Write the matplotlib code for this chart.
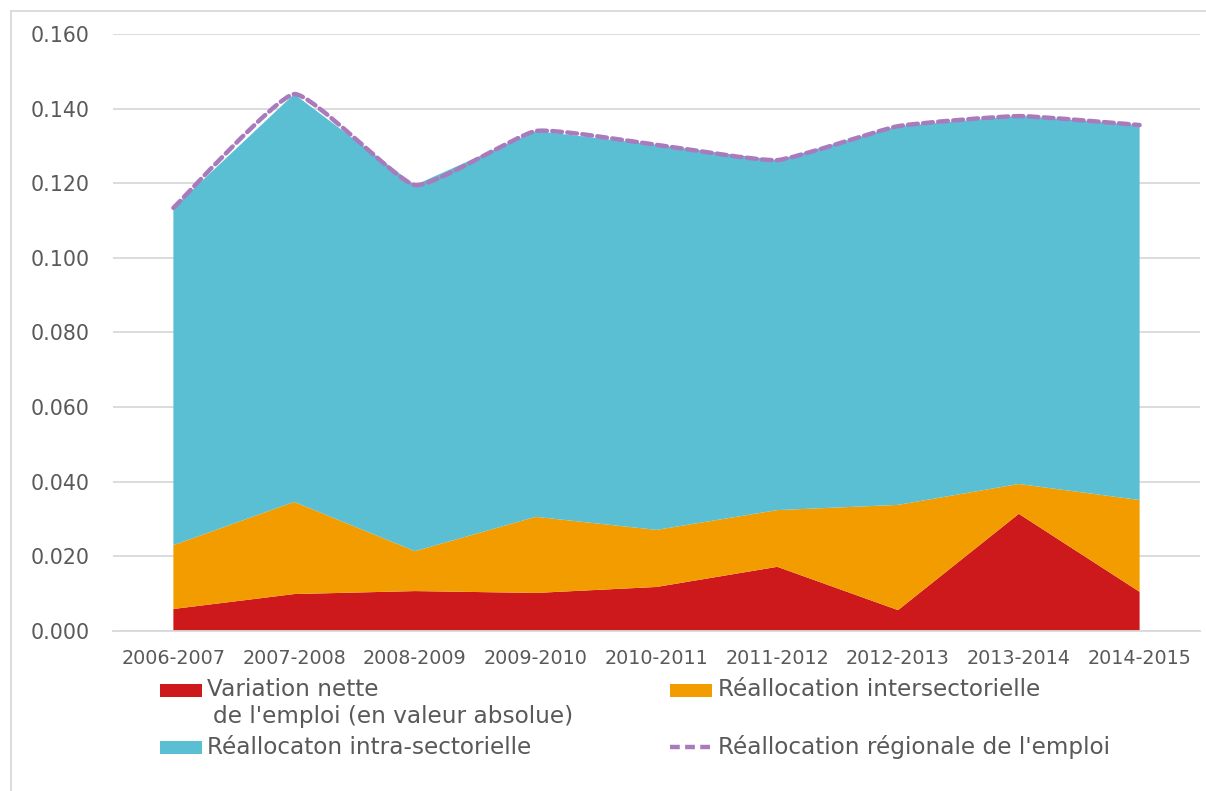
import matplotlib
matplotlib.use("Agg")
import matplotlib.pyplot as plt
import numpy as np
from matplotlib.patches import Rectangle, PathPatch
from matplotlib.lines import Line2D
from matplotlib.path import Path

periods = ["2006-2007", "2007-2008", "2008-2009", "2009-2010", "2010-2011",
           "2011-2012", "2012-2013", "2013-2014", "2014-2015"]
net_variation = [0.0059, 0.0099, 0.0107, 0.0102, 0.0118, 0.0172, 0.0056, 0.0314, 0.0105]
inter_sector = [0.0171, 0.0247, 0.0107, 0.0204, 0.0153, 0.0152, 0.0282, 0.0080, 0.0246]
intra_sector = [0.0904, 0.1093, 0.0981, 0.1034, 0.1032, 0.0938, 0.1015, 0.0986, 0.1005]
regional_total = [0.1134, 0.1439, 0.1195, 0.1340, 0.1303, 0.1262, 0.1353, 0.1380, 0.1356]
y_ticks = [0.0, 0.02, 0.04, 0.06, 0.08, 0.10, 0.12, 0.14, 0.16]

labels = ["Variation nette", "Réallocation intersectorielle",
          "Réallocaton intra-sectorielle", "Réallocation régionale de l'emploi"]

RED = "#CD181C"
ORANGE = "#F39C00"
TEAL = "#5ABFD3"
PURPLE = "#A97BBD"
GRID = "#D9D9D9"
TXT = "#595959"
FONT = "DejaVu Sans"

W, H = 1206, 791
fig = plt.figure(figsize=(W / 100, H / 100), dpi=100)
ax = fig.add_axes([113 / W, 1 - 631 / H, (1200 - 113) / W, (631 - 34) / H])

x = np.arange(len(periods))
ax.stackplot(x, net_variation, inter_sector, intra_sector,
             colors=[RED, ORANGE, TEAL], linewidth=0, zorder=2)

# lightly smoothed dashed line through the totals (cubic Bezier path)
pts = np.column_stack([x, regional_total]).astype(float)
k = 1.0 / 14.0
verts = [tuple(pts[0])]
codes = [Path.MOVETO]
for i in range(len(pts) - 1):
    p0 = pts[i - 1] if i > 0 else pts[i]
    p1 = pts[i]
    p2 = pts[i + 1]
    p3 = pts[i + 2] if i + 2 < len(pts) else pts[i + 1]
    c1 = p1 + (p2 - p0) * k
    c2 = p2 - (p3 - p1) * k
    verts += [tuple(c1), tuple(c2), tuple(p2)]
    codes += [Path.CURVE4] * 3
ax.add_patch(PathPatch(Path(verts, codes), facecolor="none", edgecolor=PURPLE, lw=3.2,
                       linestyle=(0, (2.2, 1.2)), capstyle="round", zorder=3))

ax.set_xlim(-0.5, len(periods) - 0.5)
ax.set_ylim(0, 0.16)
ax.set_yticks(y_ticks)
ax.set_yticklabels([f"{v:.3f}" for v in y_ticks], fontsize=14.8, color=TXT, family=FONT)
ax.set_xticks(x)
ax.set_xticklabels(periods, fontsize=13.8, color=TXT, family=FONT)
ax.tick_params(axis="y", length=0, pad=17)
ax.tick_params(axis="x", length=0, pad=13)
ax.grid(axis="y", color=GRID, lw=1.3, zorder=0)
ax.set_axisbelow(True)
for s in ["top", "right", "left"]:
    ax.spines[s].set_visible(False)
ax.spines["bottom"].set_color(GRID)
ax.spines["bottom"].set_linewidth(1.3)

# figure border (left and top edges visible)
fig.add_artist(Rectangle((11 / W, -0.05), 1.1, (1 - 11 / H) + 0.05,
                         transform=fig.transFigure, fill=False,
                         edgecolor="#D9D9D9", lw=1.3))

# legend (manual placement)
def fy(py):
    return 1 - py / H

LFS = 16.7
def patch(px, py, color):
    fig.add_artist(Rectangle((px / W, fy(py + 6.5)), 42 / W, 13 / H,
                             transform=fig.transFigure, color=color, lw=0))

patch(160, 690, RED)
fig.text(207 / W, fy(690), labels[0], fontsize=LFS, color=TXT, family=FONT, va="center")
fig.text(213 / W, fy(717), "de l'emploi (en valeur absolue)", fontsize=LFS, color=TXT,
         family=FONT, va="center")
patch(160, 747, TEAL)
fig.text(207 / W, fy(747), labels[2], fontsize=LFS, color=TXT, family=FONT, va="center")
patch(670, 690, ORANGE)
fig.text(718 / W, fy(690), labels[1], fontsize=LFS, color=TXT, family=FONT, va="center")
fig.add_artist(Line2D([670 / W, 710 / W], [fy(747), fy(747)], transform=fig.transFigure,
                      color=PURPLE, lw=3.2, linestyle=(0, (2.2, 1.2))))
fig.text(718 / W, fy(747), labels[3], fontsize=LFS, color=TXT, family=FONT, va="center")

fig.savefig("out.png", dpi=100)
